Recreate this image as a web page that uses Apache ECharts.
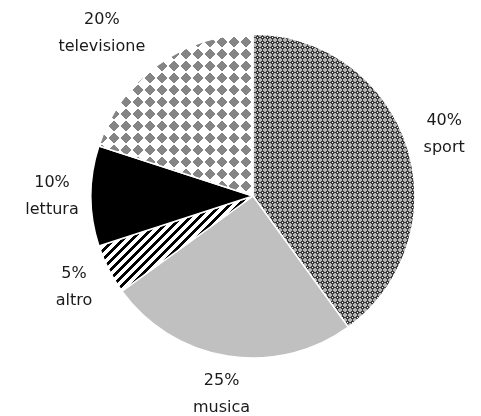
<!DOCTYPE html>
<html>
<head>
<meta charset="utf-8">
<script src="https://cdn.jsdelivr.net/npm/echarts@6/dist/echarts.min.js"></script>
<style>
html,body{margin:0;padding:0;background:#fff;}
#chart{width:481px;height:416px;}
</style>
</head>
<body>
<div id="chart"></div>
<script>
// Data
var categories = ['sport', 'musica', 'altro', 'lettura', 'televisione'];
var percents = [40, 25, 5, 10, 20];

// Pattern tiles
function makeTile(w, h, fn) {
  var c = document.createElement('canvas');
  c.width = w; c.height = h;
  var ctx = c.getContext('2d');
  for (var y = 0; y < h; y++) {
    for (var x = 0; x < w; x++) {
      ctx.fillStyle = fn(x, y);
      ctx.fillRect(x, y, 1, 1);
    }
  }
  return c;
}
var sportTile = makeTile(5, 5, function (x, y) {
  var d = Math.abs(x - 2) + Math.abs(y - 2);
  if (d < 1) return '#ffffff';
  if (d < 2.5) return '#3a3a3a';
  return '#b4b4b4';
});
var tvTile = makeTile(12, 12, function (x, y) {
  var d = Math.abs(x - 5.5) + Math.abs(y - 5.5);
  return d <= 5 ? '#858585' : '#ffffff';
});
var stripeTile = makeTile(9, 9, function (x, y) {
  return ((x + y) % 9) < 4 ? '#000000' : '#ffffff';
});

var fills = [
  { image: sportTile, repeat: 'repeat' },
  '#c0c0c0',
  { image: stripeTile, repeat: 'repeat' },
  '#000000',
  { image: tvTile, repeat: 'repeat' }
];

var pieData = categories.map(function (n, i) {
  return { name: n, value: percents[i], itemStyle: { color: fills[i] } };
});
var labelData = categories.map(function (n, i) {
  var item = { name: n, value: percents[i] };
  if (n === 'televisione') {
    item.label = { padding: [0, 66, 0, 0] };
  }
  return item;
});

var chart = echarts.init(document.getElementById('chart'), null, { renderer: 'canvas' });
chart.setOption({
  backgroundColor: '#ffffff',
  animation: false,
  series: [
    {
      type: 'pie',
      center: [253, 196],
      radius: [0, 162],
      startAngle: 90,
      clockwise: true,
      data: pieData,
      itemStyle: { borderColor: '#ffffff', borderWidth: 1.5 },
      label: { show: false },
      labelLine: { show: false },
      emphasis: { disabled: true },
      silent: true
    },
    {
      type: 'pie',
      center: [253, 196],
      radius: [188, 208],
      startAngle: 90,
      clockwise: true,
      data: labelData,
      itemStyle: { color: 'rgba(0,0,0,0)' },
      label: {
        show: true,
        position: 'inside',
        formatter: '{c}%\n{b}',
        fontFamily: 'DejaVu Sans',
        fontSize: 16,
        lineHeight: 27,
        color: '#1a1a1a',
        align: 'center'
      },
      labelLine: { show: false },
      emphasis: { disabled: true },
      silent: true
    }
  ]
});
</script>
</body>
</html>
